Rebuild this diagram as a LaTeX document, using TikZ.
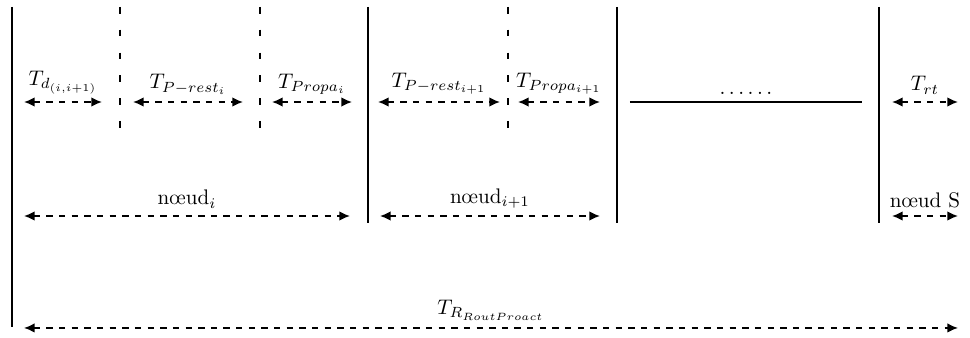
\documentclass[tikz,border=0pt]{standalone}
\usepackage{tikz}
\usetikzlibrary{arrows.meta,positioning}
\tikzset{
  span/.style={thick,dashed,{Latex[length=5pt,width=4.5pt]}-{Latex[length=5pt,width=4.5pt]}},
  bound/.style={thick},
  subbound/.style={thick,dash pattern=on 3.2pt off 7.6pt}
}

\begin{document}
\begin{tikzpicture}
    \useasboundingbox (0,0) rectangle (16.167,5.633);
    % node boundaries (solid) and sub-steps (dashed)
    \coordinate (b0t) at (0.2,5.517);    \coordinate (b0b) at (0.2,0.183);
    \coordinate (b1t) at (6.133,5.517);  \coordinate (b1b) at (6.133,1.917);
    \coordinate (b2t) at (10.283,5.517); \coordinate (b2b) at (10.283,1.917);
    \coordinate (b3t) at (14.65,5.517);  \coordinate (b3b) at (14.65,1.917);
    \coordinate (d1t) at (2.0,5.517);    \coordinate (d1b) at (2.0,3.417);
    \coordinate (d2t) at (4.333,5.517);  \coordinate (d2b) at (4.333,3.417);
    \coordinate (d3t) at (8.467,5.517);  \coordinate (d3b) at (8.467,3.417);
    \draw[bound] (b0t) -- (b0b);
    \draw[bound] (b1t) -- (b1b);
    \draw[bound] (b2t) -- (b2b);
    \draw[bound] (b3t) -- (b3b);
    \draw[subbound] (d1t) -- (d1b);
    \draw[subbound] (d2t) -- (d2b);
    \draw[subbound] (d3t) -- (d3b);

    % first row: delays
    \coordinate (a1l) at (0.4,3.933);    \coordinate (a1r) at (1.7,3.933);
    \coordinate (a2l) at (2.217,3.933);  \coordinate (a2r) at (4.05,3.933);
    \coordinate (a3l) at (4.533,3.933);  \coordinate (a3r) at (5.867,3.933);
    \coordinate (a4l) at (6.3,3.933);    \coordinate (a4r) at (8.333,3.933);
    \coordinate (a5l) at (8.633,3.933);  \coordinate (a5r) at (10.0,3.933);
    \coordinate (a6l) at (14.867,3.933); \coordinate (a6r) at (15.967,3.933);
    \draw[span] (a1l) -- node[above] (td) {$T_{d_{(i,i+1)}}$} (a1r);
    \draw[span] (a2l) -- node[above] (tpr) {$T_{P-rest_i}$} (a2r);
    \draw[span] (a3l) -- node[above] (tpp) {$T_{Propa_i}$} (a3r);
    \draw[span] (a4l) -- node[above] (tprn) {$T_{P-rest_{i+1}}$} (a4r);
    \draw[span] (a5l) -- node[above] (tppn) {$T_{Propa_{i+1}}$} (a5r);
    \draw[span] (a6l) -- node[above] (trt) {$T_{rt}$} (a6r);
    \coordinate (hl) at (10.5,3.933);    \coordinate (hr) at (14.367,3.933);
    \draw[bound] (hl) -- node[above] (dots) {$\ldots\ldots$} (hr);

    % second row: nodes
    \coordinate (n1l) at (0.4,2.033);    \coordinate (n1r) at (5.833,2.033);
    \coordinate (n2l) at (6.333,2.033);  \coordinate (n2r) at (10.0,2.033);
    \coordinate (n3l) at (14.867,2.033); \coordinate (n3r) at (15.967,2.033);
    \draw[span] (n1l) -- node[above] (ni) {n\oe ud$_i$} (n1r);
    \draw[span] (n2l) -- node[above] (nin) {n\oe ud$_{i+1}$} (n2r);
    \draw[span] (n3l) -- node[above] (ns) {n\oe ud S} (n3r);

    % total
    \coordinate (tl) at (0.4,0.167);     \coordinate (tr) at (15.967,0.167);
    \draw[span] (tl) -- node[above] (tot) {$T_{R_{RoutProact}}$} (tr);
\end{tikzpicture}
\end{document}
